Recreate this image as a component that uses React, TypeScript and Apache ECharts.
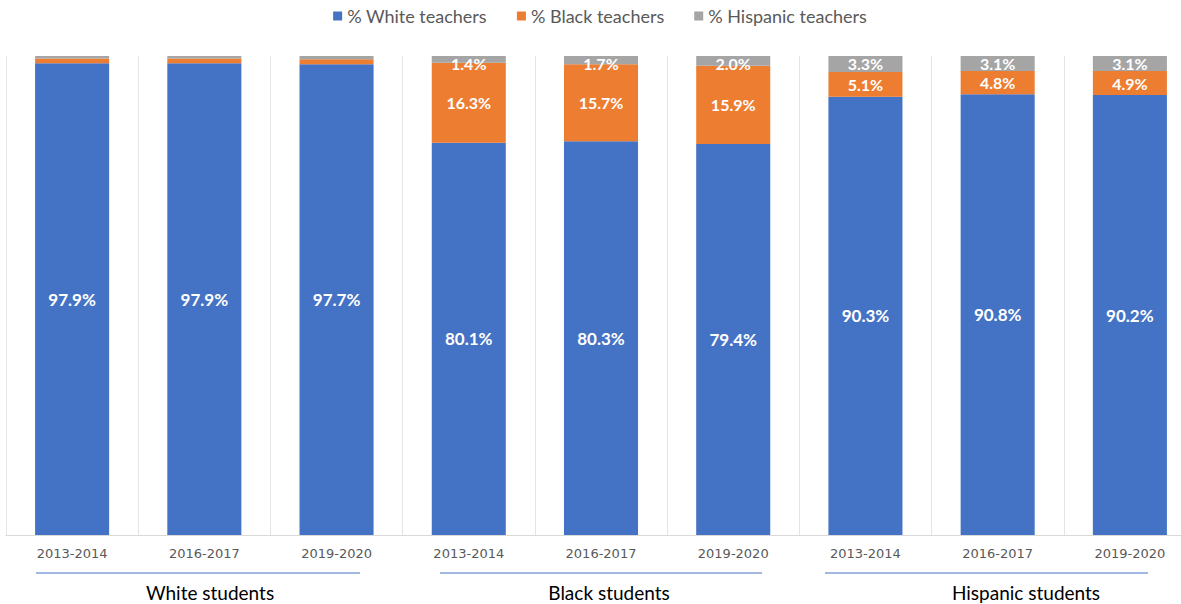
import React, { useEffect, useRef } from "react";
import * as echarts from "echarts";

const categories = [
  "2013-2014", "2016-2017", "2019-2020",
  "2013-2014", "2016-2017", "2019-2020",
  "2013-2014", "2016-2017", "2019-2020",
];
const whiteTeachers = [97.9, 97.9, 97.7, 80.1, 80.3, 79.4, 90.3, 90.8, 90.2];
const blackTeachers = [1.0, 1.0, 1.0, 16.3, 15.7, 15.9, 5.1, 4.8, 4.9];
const hispanicTeachers = [0.5, 0.5, 0.7, 1.4, 1.7, 2.0, 3.3, 3.1, 3.1];
const seriesNames = ["% White teachers", "% Black teachers", "% Hispanic teachers"];
const groupNames = ["White students", "Black students", "Hispanic students"];

const colors = ["#4472C4", "#ED7D31", "#A5A5A5"];

export default function App() {
  const ref = useRef<HTMLDivElement>(null);
  useEffect(() => {
    if (!ref.current) return;
    const chart = echarts.init(ref.current, undefined, { renderer: "svg" });
    const raw = [whiteTeachers, blackTeachers, hispanicTeachers];
    const totals = categories.map((_, i) => raw.reduce((s, arr) => s + arr[i], 0));
    const series = raw.map((arr, si) => ({
      name: seriesNames[si],
      type: "bar",
      stack: "total",
      barCategoryGap: "44%",
      itemStyle: { color: colors[si] },
      data: arr.map((v, i) => ({ value: (v / totals[i]) * 100, raw: v })),
      label: {
        show: true,
        position: si === 2 ? "insideTop" : "inside",
        distance: si === 2 ? 0 : 5,
        color: "#fff",
        fontWeight: "bold",
        fontSize: si === 0 ? 17 : 16,
        lineHeight: 14,
        fontFamily: "Lato",
        formatter: (p: any) => (p.data.raw >= 1.2 ? p.data.raw.toFixed(1) + "%" : ""),
      },
    }));

    const groupLines = [
      [36, 360],
      [440, 762],
      [825, 1148],
    ];
    const groupCenters = [210, 609, 1026];
    const graphic: any[] = [];
    groupLines.forEach((l, gi) => {
      graphic.push({
        type: "line",
        shape: { x1: l[0], y1: 573, x2: l[1], y2: 573 },
        style: { stroke: "#4472C4", lineWidth: 1 },
      });
      graphic.push({
        type: "text",
        x: groupCenters[gi],
        y: 592,
        style: {
          text: groupNames[gi],
          fill: "#000",
          font: "19px Lato",
          textAlign: "center",
          textVerticalAlign: "middle",
        },
      });
    });

    chart.setOption({
      animation: false,
      legend: {
        top: 2,
        left: "center",
        itemWidth: 9,
        itemHeight: 9,
        itemGap: 30,
        icon: "rect",
        textStyle: { color: "#595959", fontSize: 18, fontFamily: "Lato" },
        data: seriesNames,
      },
      grid: { left: 6, right: 4, top: 56, bottom: 69 },
      xAxis: {
        type: "category",
        data: categories,
        axisLine: { lineStyle: { color: "#D9D9D9" } },
        axisTick: { show: false },
        splitLine: { show: true, interval: 0, lineStyle: { color: "#E4E4E4" } },
        axisLabel: {
          interval: 0,
          color: "#595959",
          fontSize: 13,
          margin: 12,
          fontFamily: "DejaVu Sans",
        },
      },
      yAxis: {
        type: "value",
        min: 0,
        max: 100,
        show: false,
        splitLine: { show: false },
      },
      series,
      graphic,
    });
    return () => chart.dispose();
  }, []);
  return (
    <div
      style={{ position: "absolute", left: 0, top: 0, width: 1181, height: 604, overflow: "hidden", background: "#fff" }}
    >
      <div ref={ref} style={{ width: 1200, height: 604 }} />
    </div>
  );
}
